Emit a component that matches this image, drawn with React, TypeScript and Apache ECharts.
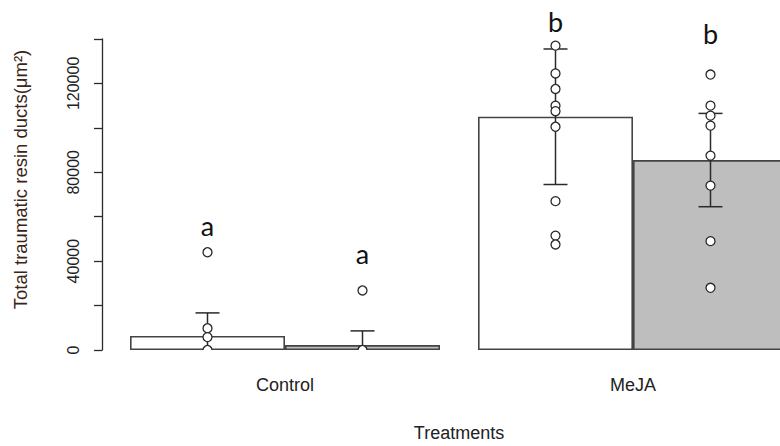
import React, { useEffect, useRef } from 'react';
import * as echarts from 'echarts';

const categories = ['Control', 'MeJA'];
const groupNames = ['Group 1', 'Group 2'];
const yTickLabels = [0, 40000, 80000, 120000];
const meanWhite = [6300, 105000];
const meanGrey = [2200, 85500];
const errWhite = [10400, 30500];
const errGrey = [6400, 21000];
const pointsWhite = [
  [44000, 9800, 5800, 0],
  [137000, 124500, 117500, 110000, 107500, 100500, 67000, 51500, 47500],
];
const pointsGrey = [
  [26800, 0],
  [124000, 110000, 105500, 101000, 87500, 74000, 49000, 28000],
];
const lettersWhite = ['a', 'b'];
const lettersGrey = ['a', 'b'];
const letterYWhite = [56000, 148000];
const letterYGrey = [43500, 142500];

const BAR_W = 155;
const CAP_W = 24;
const PT_R = 4.5;
const INK = '#2a2a2a';
const FONT = '"Liberation Sans", Arial, sans-serif';

function pointSeries(pts: number[][], sign: number) {
  const data = pts.flatMap((arr, i) => arr.map((v) => [i, v]));
  return {
    type: 'custom',
    z: 5,
    clip: true,
    data,
    renderItem: (params: any, api: any) => {
      const c = api.coord([api.value(0), api.value(1)]);
      return {
        type: 'circle',
        shape: { cx: c[0] + (sign * BAR_W) / 2, cy: c[1], r: PT_R },
        style: { fill: '#ffffff', stroke: INK, lineWidth: 1.3 },
      };
    },
  };
}

function errSeries(means: number[], errs: number[], sign: number) {
  const data = means.map((m, i) => [i, m - errs[i], m + errs[i]]);
  return {
    type: 'custom',
    z: 4,
    clip: true,
    data,
    renderItem: (params: any, api: any) => {
      const cat = api.value(0);
      const lo = api.value(1);
      const hi = api.value(2);
      const top = api.coord([cat, hi]);
      const bot = api.coord([cat, Math.max(lo, 0)]);
      const x = top[0] + (sign * BAR_W) / 2;
      const st = { stroke: INK, lineWidth: 1.5 };
      const children: any[] = [
        { type: 'line', shape: { x1: x, y1: top[1], x2: x, y2: bot[1] }, style: st },
        { type: 'line', shape: { x1: x - CAP_W / 2, y1: top[1], x2: x + CAP_W / 2, y2: top[1] }, style: st },
      ];
      if (lo > 0) {
        children.push({ type: 'line', shape: { x1: x - CAP_W / 2, y1: bot[1], x2: x + CAP_W / 2, y2: bot[1] }, style: st });
      }
      return { type: 'group', children };
    },
  };
}

function letterSeries(letters: string[], ys: number[], sign: number) {
  const data = ys.map((y, i) => [i, y]);
  return {
    type: 'custom',
    z: 6,
    clip: false,
    data,
    renderItem: (params: any, api: any) => {
      const i = params.dataIndex;
      const c = api.coord([api.value(0), api.value(1)]);
      return {
        type: 'text',
        x: c[0] + (sign * BAR_W) / 2,
        y: c[1],
        style: {
          text: letters[i],
          fontSize: 27,
          fontFamily: 'Lato, "Open Sans", sans-serif',
          fill: '#111',
          align: 'center',
          verticalAlign: 'middle',
          textAlign: 'center',
          textVerticalAlign: 'middle',
        },
      };
    },
  };
}

export default function App() {
  const ref = useRef<HTMLDivElement>(null);
  useEffect(() => {
    document.body.style.margin = '0';
    const chart = echarts.init(ref.current!, undefined, { renderer: 'svg' });
    chart.setOption({
      animation: false,
      backgroundColor: '#ffffff',
      grid: { left: 111, top: 39, width: 696, height: 311, containLabel: false, outerBoundsMode: 'none' },
      xAxis: {
        type: 'category',
        data: categories,
        axisLine: { show: false },
        axisTick: { show: false },
        axisLabel: { fontSize: 18, fontFamily: FONT, color: '#222', margin: 26 },
        name: 'Treatments',
        nameLocation: 'middle',
        nameGap: 74,
        nameTextStyle: { fontSize: 18, fontFamily: FONT, color: '#222' },
      },
      yAxis: {
        type: 'value',
        min: 0,
        max: 140000,
        interval: 20000,
        offset: 9,
        axisLine: { show: true, lineStyle: { color: INK, width: 1.3 } },
        axisTick: { show: true, length: 8, lineStyle: { color: INK, width: 1.3 } },
        splitLine: { show: false },
        axisLabel: {
          rotate: 90,
          fontSize: 16,
          fontFamily: FONT,
          color: '#222',
          margin: 21,
          formatter: (v: number) => (yTickLabels.includes(v) ? String(v) : ''),
        },
        name: 'Total traumatic resin ducts(\u03bcm\u00b2)',
        nameLocation: 'middle',
        nameRotate: 90,
        nameGap: 72,
        nameTextStyle: { fontSize: 18.5, fontFamily: FONT, color: '#3a2418', padding: [0, 0, 0, 30] },
      },
      series: [
        {
          type: 'bar',
          name: groupNames[0],
          data: meanWhite,
          barWidth: BAR_W,
          barGap: '0%',
          z: 2,
          itemStyle: { color: '#ffffff', borderColor: '#444', borderWidth: 1.6 },
        },
        {
          type: 'bar',
          name: groupNames[1],
          data: meanGrey,
          barWidth: BAR_W,
          barGap: '0%',
          z: 2,
          itemStyle: { color: '#bebebe', borderColor: '#444', borderWidth: 1.6 },
        },
        errSeries(meanWhite, errWhite, -1),
        errSeries(meanGrey, errGrey, 1),
        pointSeries(pointsWhite, -1),
        pointSeries(pointsGrey, 1),
        letterSeries(lettersWhite, letterYWhite, -1),
        letterSeries(lettersGrey, letterYGrey, 1),
      ],
    });
    return () => chart.dispose();
  }, []);
  return <div ref={ref} style={{ width: 780, height: 446 }} />;
}
